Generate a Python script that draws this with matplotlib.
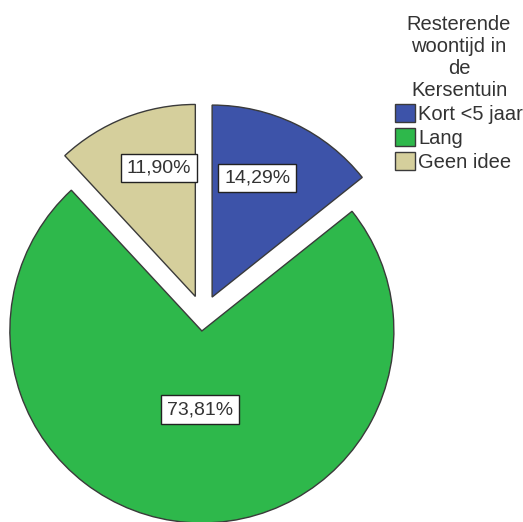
import numpy as np
import matplotlib
matplotlib.use("Agg")
import matplotlib.pyplot as plt

plt.rcParams['font.family'] = ['Liberation Sans', 'DejaVu Sans']

# Dati
categorie = ['Kort <5 jaar', 'Lang', 'Geen idee']
percentuali = [14.29, 73.81, 11.90]
colori = ['#3D53A9', '#2EB84B', '#D5CF9C']
titolo_legenda = 'Resterende\nwoontijd in\nde\nKersentuin'

W, H = 523, 522
R = 192
# spostamento delle fette (in pixel, unità dati)
esplosione = [21, 15, 21]
# posizione etichette: frazione del raggio e scarto angolare dalla bisettrice
dist_etichette = [0.663, 0.41, 0.695]
scarto_angolo = [5.0, 3.0, -5.6]

fig = plt.figure(figsize=(W / 100, H / 100), dpi=100)
ax = fig.add_axes([0, 0, 1, 1])

wedges, _, autotexts = ax.pie(
    percentuali, colors=colori, explode=esplosione,
    center=(203, H - 316), radius=R,
    startangle=90, counterclock=False,
    autopct=lambda p: f'{p:.2f}%'.replace('.', ','),
    wedgeprops=dict(edgecolor='#3a3a3a', linewidth=1.0),
    frame=True,
)
ax.set_xlim(0, W)
ax.set_ylim(0, H)
ax.set_aspect('equal')
ax.axis('off')

# etichette percentuali in riquadro bianco
for w, t, d, da in zip(wedges, autotexts, dist_etichette, scarto_angolo):
    ang = np.deg2rad((w.theta1 + w.theta2) / 2 + da)
    cx, cy = w.center
    t.set_position((cx + R * d * np.cos(ang), cy + R * d * np.sin(ang)))
    t.set_fontsize(14)
    t.set_color('#333333')
    t.set_ha('center')
    t.set_va('center')
    t.set_bbox(dict(boxstyle='square,pad=0.3', facecolor='white',
                    edgecolor='#222222', linewidth=1.0))

leg = fig.legend(wedges, categorie, title=titolo_legenda,
                 loc='upper left', bbox_to_anchor=(395 / W, 1 - 15 / H),
                 frameon=False, fontsize=14.5, title_fontsize=14.5,
                 handlelength=1.0, handleheight=1.0, handletextpad=0.15,
                 labelspacing=0.2, borderaxespad=0, borderpad=0)
for txt in leg.get_texts():
    txt.set_color('#333333')
leg.get_title().set_color('#333333')
leg.get_title().set_multialignment('center')

fig.savefig('out.png', dpi=100)
